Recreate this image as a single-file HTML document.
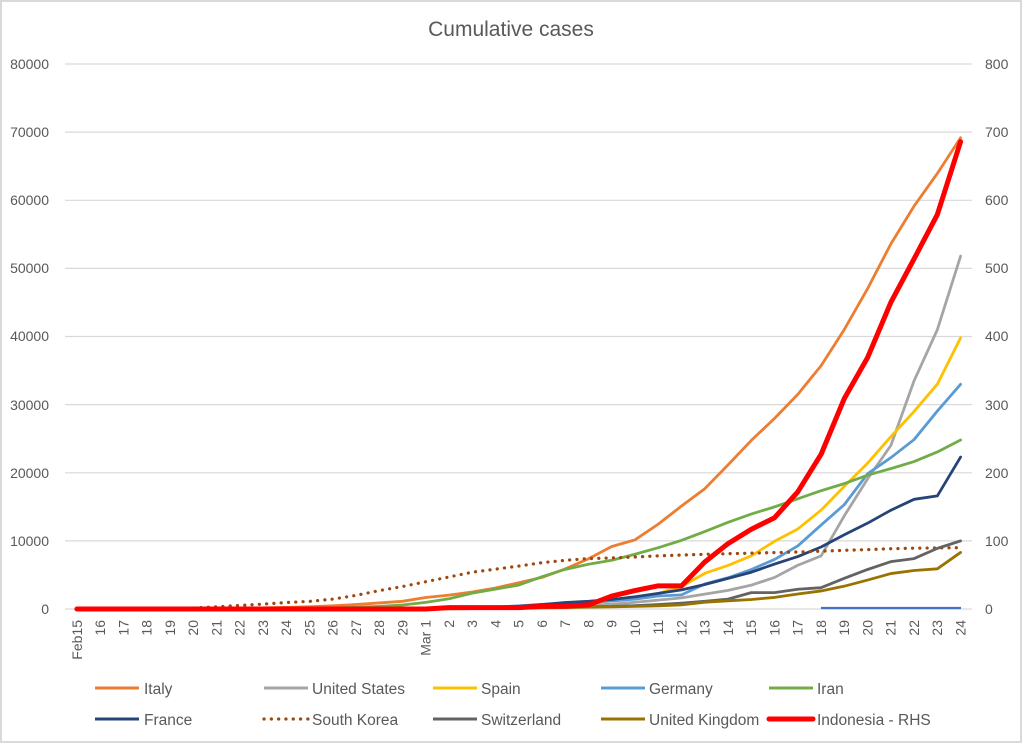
<!DOCTYPE html>
<html><head><meta charset="utf-8"><style>
html,body{margin:0;padding:0;background:#fff;}
svg{display:block;}
text{font-family:"Liberation Sans",Arial,sans-serif;fill:#595959;}
</style></head><body>
<svg width="1023" height="744" viewBox="0 0 1023 744" xmlns="http://www.w3.org/2000/svg">
<rect x="0" y="0" width="1023" height="744" fill="#fff"/>
<rect x="1" y="1" width="1020" height="741" fill="none" stroke="#d9d9d9" stroke-width="2"/>
<text x="511" y="36" font-size="21" text-anchor="middle">Cumulative cases</text>
<g stroke="#d9d9d9" stroke-width="1.2">
<line x1="65" y1="64" x2="972" y2="64"/><line x1="65" y1="132.1" x2="972" y2="132.1"/><line x1="65" y1="200.3" x2="972" y2="200.3"/><line x1="65" y1="268.4" x2="972" y2="268.4"/><line x1="65" y1="336.5" x2="972" y2="336.5"/><line x1="65" y1="404.6" x2="972" y2="404.6"/><line x1="65" y1="472.8" x2="972" y2="472.8"/><line x1="65" y1="540.9" x2="972" y2="540.9"/><line x1="65" y1="609" x2="972" y2="609"/>
</g>
<g font-size="14" text-anchor="end">
<text x="49" y="69">80000</text><text x="49" y="137">70000</text><text x="49" y="205">60000</text><text x="49" y="273">50000</text><text x="49" y="341">40000</text><text x="49" y="410">30000</text><text x="49" y="478">20000</text><text x="49" y="546">10000</text><text x="49" y="614">0</text>
</g>
<g font-size="14">
<text x="985" y="69">800</text><text x="985" y="137">700</text><text x="985" y="205">600</text><text x="985" y="273">500</text><text x="985" y="341">400</text><text x="985" y="410">300</text><text x="985" y="478">200</text><text x="985" y="546">100</text><text x="985" y="614">0</text>
</g>
<g font-size="14" text-anchor="end">
<text transform="translate(76.9,620) rotate(-90)" dy="0.35em">Feb15</text>
<text transform="translate(100.16,620) rotate(-90)" dy="0.35em">16</text>
<text transform="translate(123.41,620) rotate(-90)" dy="0.35em">17</text>
<text transform="translate(146.67,620) rotate(-90)" dy="0.35em">18</text>
<text transform="translate(169.92,620) rotate(-90)" dy="0.35em">19</text>
<text transform="translate(193.18,620) rotate(-90)" dy="0.35em">20</text>
<text transform="translate(216.43,620) rotate(-90)" dy="0.35em">21</text>
<text transform="translate(239.69,620) rotate(-90)" dy="0.35em">22</text>
<text transform="translate(262.94,620) rotate(-90)" dy="0.35em">23</text>
<text transform="translate(286.2,620) rotate(-90)" dy="0.35em">24</text>
<text transform="translate(309.45,620) rotate(-90)" dy="0.35em">25</text>
<text transform="translate(332.71,620) rotate(-90)" dy="0.35em">26</text>
<text transform="translate(355.96,620) rotate(-90)" dy="0.35em">27</text>
<text transform="translate(379.22,620) rotate(-90)" dy="0.35em">28</text>
<text transform="translate(402.47,620) rotate(-90)" dy="0.35em">29</text>
<text transform="translate(425.73,620) rotate(-90)" dy="0.35em">Mar 1</text>
<text transform="translate(448.98,620) rotate(-90)" dy="0.35em">2</text>
<text transform="translate(472.24,620) rotate(-90)" dy="0.35em">3</text>
<text transform="translate(495.49,620) rotate(-90)" dy="0.35em">4</text>
<text transform="translate(518.75,620) rotate(-90)" dy="0.35em">5</text>
<text transform="translate(542,620) rotate(-90)" dy="0.35em">6</text>
<text transform="translate(565.26,620) rotate(-90)" dy="0.35em">7</text>
<text transform="translate(588.51,620) rotate(-90)" dy="0.35em">8</text>
<text transform="translate(611.77,620) rotate(-90)" dy="0.35em">9</text>
<text transform="translate(635.02,620) rotate(-90)" dy="0.35em">10</text>
<text transform="translate(658.28,620) rotate(-90)" dy="0.35em">11</text>
<text transform="translate(681.53,620) rotate(-90)" dy="0.35em">12</text>
<text transform="translate(704.79,620) rotate(-90)" dy="0.35em">13</text>
<text transform="translate(728.04,620) rotate(-90)" dy="0.35em">14</text>
<text transform="translate(751.3,620) rotate(-90)" dy="0.35em">15</text>
<text transform="translate(774.55,620) rotate(-90)" dy="0.35em">16</text>
<text transform="translate(797.81,620) rotate(-90)" dy="0.35em">17</text>
<text transform="translate(821.06,620) rotate(-90)" dy="0.35em">18</text>
<text transform="translate(844.32,620) rotate(-90)" dy="0.35em">19</text>
<text transform="translate(867.57,620) rotate(-90)" dy="0.35em">20</text>
<text transform="translate(890.83,620) rotate(-90)" dy="0.35em">21</text>
<text transform="translate(914.08,620) rotate(-90)" dy="0.35em">22</text>
<text transform="translate(937.34,620) rotate(-90)" dy="0.35em">23</text>
<text transform="translate(960.59,620) rotate(-90)" dy="0.35em">24</text>
</g>

<g transform="matrix(23.255,0,0,-0.0068125,76.9,609)" fill="none" stroke-linejoin="round" stroke-linecap="round">
<polyline vector-effect="non-scaling-stroke" stroke="#ED7D31" stroke-width="2.8" points="0,3 1,3 2,3 3,3 4,3 5,3 6,20 7,79 8,157 9,229 10,323 11,470 12,655 13,889 14,1128 15,1694 16,2036 17,2502 18,3089 19,3858 20,4636 21,5883 22,7375 23,9172 24,10149 25,12462 26,15113 27,17660 28,21157 29,24747 30,27980 31,31506 32,35713 33,41035 34,47021 35,53578 36,59138 37,63927 38,69176"/>
<polyline vector-effect="non-scaling-stroke" stroke="#A5A5A5" stroke-width="2.8" points="0,15 1,15 2,15 3,15 4,15 5,15 6,35 7,35 8,35 9,53 10,53 11,59 12,60 13,62 14,68 15,75 16,100 17,124 18,158 19,221 20,319 21,435 22,541 23,704 24,994 25,1301 26,1630 27,2183 28,2727 29,3499 30,4632 31,6421 32,7786 33,13680 34,19101 35,24000 36,33500 37,41000 38,51800"/>
<polyline vector-effect="non-scaling-stroke" stroke="#FFC000" stroke-width="2.8" points="0,2 1,2 2,2 3,2 4,2 5,2 6,2 7,2 8,2 9,2 10,6 11,13 12,15 13,32 14,45 15,84 16,120 17,165 18,228 19,282 20,401 21,525 22,674 23,1231 24,1695 25,2277 26,3300 27,5232 28,6391 29,7798 30,9942 31,11748 32,14500 33,18000 34,21400 35,25300 36,29000 37,33000 38,39800"/>
<polyline vector-effect="non-scaling-stroke" stroke="#5B9BD5" stroke-width="2.8" points="0,16 1,16 2,16 3,16 4,16 5,16 6,16 7,16 8,16 9,16 10,16 11,21 12,26 13,53 14,66 15,130 16,159 17,196 18,262 19,482 20,670 21,799 22,1040 23,1176 24,1457 25,1908 26,2078 27,3675 28,4585 29,5795 30,7272 31,9257 32,12327 33,15320 34,19848 35,22213 36,24873 37,29056 38,32986"/>
<polyline vector-effect="non-scaling-stroke" stroke="#70AD47" stroke-width="2.8" points="0,0 1,0 2,0 3,0 4,2 5,5 6,18 7,28 8,43 9,61 10,95 11,139 12,245 13,388 14,593 15,978 16,1501 17,2336 18,2922 19,3513 20,4747 21,5823 22,6566 23,7161 24,8042 25,9000 26,10075 27,11364 28,12729 29,13938 30,14991 31,16169 32,17361 33,18407 34,19644 35,20610 36,21638 37,23049 38,24811"/>
<polyline vector-effect="non-scaling-stroke" stroke="#264478" stroke-width="2.8" points="0,12 1,12 2,12 3,12 4,12 5,12 6,12 7,12 8,12 9,12 10,12 11,18 12,38 13,57 14,100 15,130 16,191 17,204 18,288 19,380 20,656 21,957 22,1136 23,1400 24,1800 25,2300 26,2800 27,3600 28,4500 29,5400 30,6600 31,7700 32,9100 33,10900 34,12600 35,14500 36,16100 37,16600 38,22300"/>
</g>
<polyline fill="none" stroke="#9E480E" stroke-width="3.2" stroke-linecap="round" stroke-dasharray="0.1 7.2" points="76.9,608.8 100.16,608.8 123.41,608.8 146.67,608.8 169.92,608.59 193.18,607.98 216.43,606.82 239.69,605.46 262.94,604.09 286.2,602.53 309.45,601.37 332.71,599.12 355.96,595.38 379.22,590.61 402.47,586.52 425.73,581.75 448.98,576.98 472.24,572.21 495.49,569.15 518.75,566.08 542,562.67 565.26,560.29 588.51,558.59 611.77,557.91 635.02,557.02 658.28,555.86 681.53,555.05 704.79,554.3 728.04,553.68 751.3,553.14 774.55,552.59 797.81,551.98 821.06,551.16 844.32,550.34 867.57,549.6 890.83,548.71 914.08,548.16 937.34,547.96 960.59,547.69"/>
<g transform="matrix(23.255,0,0,-0.0068125,76.9,609)" fill="none" stroke-linejoin="round" stroke-linecap="round">
<polyline vector-effect="non-scaling-stroke" stroke="#636363" stroke-width="2.8" points="0,0 1,0 2,0 3,0 4,0 5,0 6,0 7,0 8,0 9,0 10,1 11,1 12,8 13,8 14,18 15,27 16,42 17,56 18,90 19,114 20,214 21,268 22,337 23,374 24,491 25,652 26,860 27,1139 28,1450 29,2400 30,2400 31,2900 32,3130 33,4500 34,5800 35,6950 36,7400 37,8900 38,10000"/>
<polyline vector-effect="non-scaling-stroke" stroke="#997300" stroke-width="2.8" points="0,9 1,9 2,9 3,9 4,9 5,9 6,9 7,9 8,9 9,9 10,13 11,13 12,15 13,20 14,23 15,36 16,40 17,51 18,85 19,115 20,163 21,206 22,273 23,321 24,382 25,456 26,600 27,1000 28,1200 29,1400 30,1700 31,2200 32,2650 33,3350 34,4250 35,5200 36,5650 37,5900 38,8300"/>
</g>
<line x1="821" y1="608" x2="961" y2="608" stroke="#4472C4" stroke-width="2.2"/>
<g transform="matrix(23.255,0,0,-0.68125,76.9,609)" fill="none" stroke-linejoin="round" stroke-linecap="round">
<polyline vector-effect="non-scaling-stroke" stroke="#FF0000" stroke-width="5" points="0,0 1,0 2,0 3,0 4,0 5,0 6,0 7,0 8,0 9,0 10,0 11,0 12,0 13,0 14,0 15,0 16,2 17,2 18,2 19,2 20,4 21,4 22,6 23,19 24,27 25,34 26,34 27,69 28,96 29,117 30,134 31,172 32,227 33,309 34,369 35,450 36,514 37,579 38,686"/>
</g>

<g stroke-width="3">
<line x1="95" y1="688" x2="139" y2="688" stroke="#ED7D31"/>
<line x1="264" y1="688" x2="308" y2="688" stroke="#A5A5A5"/>
<line x1="433" y1="688" x2="477" y2="688" stroke="#FFC000"/>
<line x1="601" y1="688" x2="645" y2="688" stroke="#5B9BD5"/>
<line x1="769" y1="688" x2="813" y2="688" stroke="#70AD47"/>
<line x1="95" y1="719" x2="139" y2="719" stroke="#264478"/>
<line x1="264" y1="719" x2="308" y2="719" stroke="#9E480E" stroke-width="3.2" stroke-linecap="round" stroke-dasharray="0.1 7.2"/>
<line x1="433" y1="719" x2="477" y2="719" stroke="#636363"/>
<line x1="601" y1="719" x2="645" y2="719" stroke="#997300"/>
<line x1="769" y1="719" x2="813" y2="719" stroke="#FF0000" stroke-width="5" stroke-linecap="round"/>
</g>
<g font-size="15.5">
<text x="144" y="694">Italy</text>
<text x="312" y="694">United States</text>
<text x="481" y="694">Spain</text>
<text x="649" y="694">Germany</text>
<text x="817" y="694">Iran</text>
<text x="144" y="725">France</text>
<text x="312" y="725">South Korea</text>
<text x="481" y="725">Switzerland</text>
<text x="649" y="725">United Kingdom</text>
<text x="817" y="725">Indonesia - RHS</text>
</g>
</svg>
</body></html>
